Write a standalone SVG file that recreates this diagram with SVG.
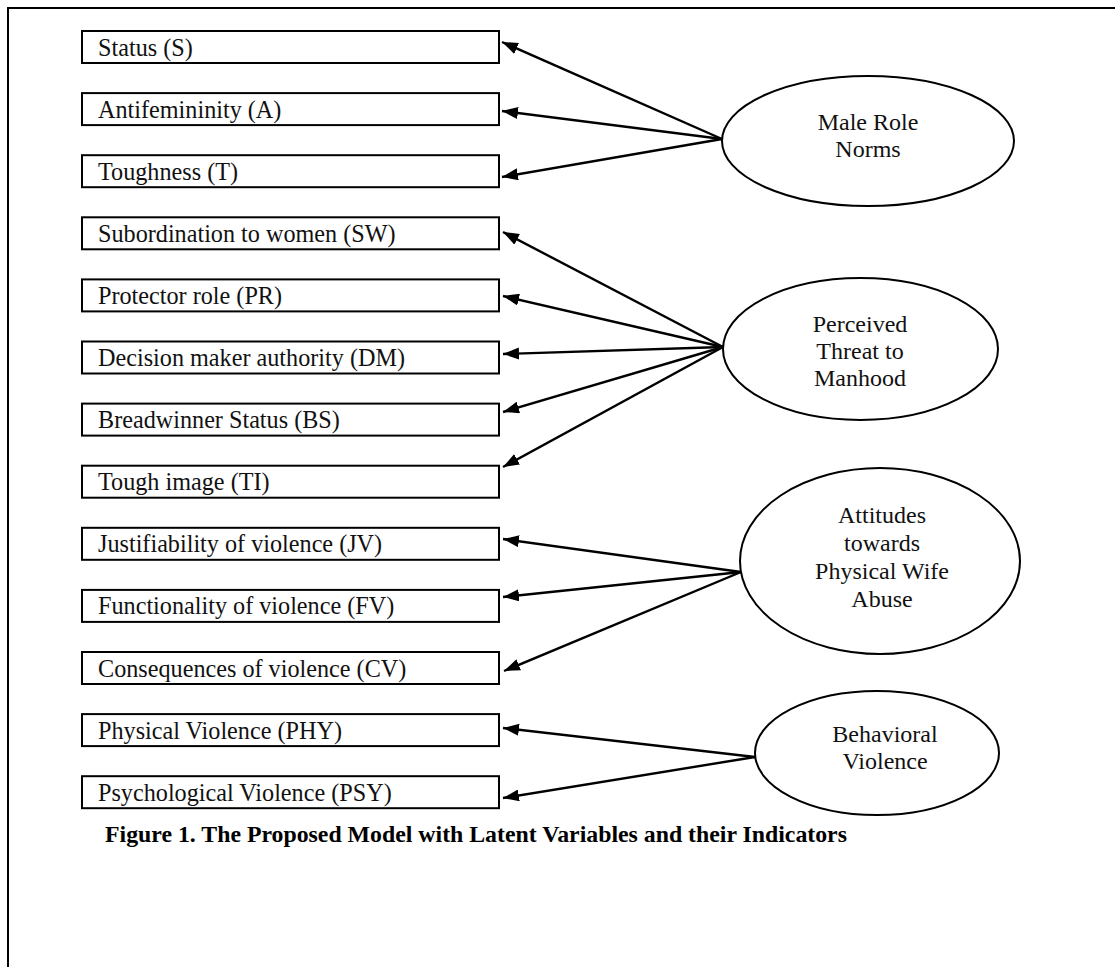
<svg xmlns="http://www.w3.org/2000/svg" width="1115" height="967" viewBox="0 0 1115 967">
<style>
.box{fill:#fff;stroke:#000;stroke-width:2}
.lbl{font-family:"Liberation Serif","Times New Roman",serif;font-size:24.2px;fill:#111}
.ell{fill:#fff;stroke:#000;stroke-width:2}
.etx{font-family:"Liberation Serif","Times New Roman",serif;font-size:24px;fill:#111;text-anchor:middle}
.arr{stroke:#000;stroke-width:2.4;fill:none;marker-end:url(#ah)}
.cap{font-family:"Liberation Serif","Times New Roman",serif;font-size:23.8px;font-weight:bold;fill:#000}
</style>
<defs>
<marker id="ah" markerUnits="userSpaceOnUse" markerWidth="17" markerHeight="12" refX="16" refY="6" orient="auto">
<path d="M0,0 L16,6 L0,12 z" fill="#000"/>
</marker>
</defs>
<rect width="1115" height="967" fill="#fff"/>
<path d="M8,967 V8 H1115" fill="none" stroke="#000" stroke-width="2"/>

<g id="ind-S"><rect class="box" x="82" y="31" width="417" height="32"/><text class="lbl" x="98" y="55.5">Status (S)</text></g>
<g id="ind-A"><rect class="box" x="82" y="93.1" width="417" height="32"/><text class="lbl" x="98" y="117.6">Antifemininity (A)</text></g>
<g id="ind-T"><rect class="box" x="82" y="155.2" width="417" height="32"/><text class="lbl" x="98" y="179.7">Toughness (T)</text></g>
<g id="ind-SW"><rect class="box" x="82" y="217.3" width="417" height="32"/><text class="lbl" x="98" y="241.8">Subordination to women (SW)</text></g>
<g id="ind-PR"><rect class="box" x="82" y="279.4" width="417" height="32"/><text class="lbl" x="98" y="303.9">Protector role (PR)</text></g>
<g id="ind-DM"><rect class="box" x="82" y="341.5" width="417" height="32"/><text class="lbl" x="98" y="366">Decision maker authority (DM)</text></g>
<g id="ind-BS"><rect class="box" x="82" y="403.6" width="417" height="32"/><text class="lbl" x="98" y="428.1">Breadwinner Status (BS)</text></g>
<g id="ind-TI"><rect class="box" x="82" y="465.7" width="417" height="32"/><text class="lbl" x="98" y="490.2">Tough image (TI)</text></g>
<g id="ind-JV"><rect class="box" x="82" y="527.8" width="417" height="32"/><text class="lbl" x="98" y="552.3">Justifiability of violence (JV)</text></g>
<g id="ind-FV"><rect class="box" x="82" y="589.9" width="417" height="32"/><text class="lbl" x="98" y="614.4">Functionality of violence (FV)</text></g>
<g id="ind-CV"><rect class="box" x="82" y="652" width="417" height="32"/><text class="lbl" x="98" y="676.5">Consequences of violence (CV)</text></g>
<g id="ind-PHY"><rect class="box" x="82" y="714.1" width="417" height="32"/><text class="lbl" x="98" y="738.6">Physical Violence (PHY)</text></g>
<g id="ind-PSY"><rect class="box" x="82" y="776.2" width="417" height="32"/><text class="lbl" x="98" y="800.7">Psychological Violence (PSY)</text></g>

<g id="lat-MRN"><ellipse class="ell" cx="868" cy="141" rx="146" ry="65"/><text class="etx" x="868" y="130">Male Role</text><text class="etx" x="868" y="157">Norms</text></g>
<g id="lat-PTM"><ellipse class="ell" cx="860.5" cy="349" rx="137.5" ry="71"/><text class="etx" x="860" y="332">Perceived</text><text class="etx" x="860" y="359">Threat to</text><text class="etx" x="860" y="386">Manhood</text></g>
<g id="lat-ATT"><ellipse class="ell" cx="880" cy="561" rx="140" ry="93"/><text class="etx" x="882" y="523">Attitudes</text><text class="etx" x="882" y="551">towards</text><text class="etx" x="882" y="579">Physical Wife</text><text class="etx" x="882" y="607">Abuse</text></g>
<g id="lat-BV"><ellipse class="ell" cx="877" cy="753" rx="122" ry="62"/><text class="etx" x="885" y="742">Behavioral</text><text class="etx" x="885" y="769">Violence</text></g>

<g id="connectors">
<line class="arr" x1="722" y1="139" x2="502" y2="42"/>
<line class="arr" x1="722" y1="139" x2="502" y2="111"/>
<line class="arr" x1="722" y1="139" x2="502" y2="177"/>
<line class="arr" x1="723" y1="347" x2="503" y2="232"/>
<line class="arr" x1="723" y1="347" x2="503" y2="296"/>
<line class="arr" x1="723" y1="347" x2="503" y2="354"/>
<line class="arr" x1="723" y1="347" x2="503" y2="412"/>
<line class="arr" x1="723" y1="347" x2="503" y2="467"/>
<line class="arr" x1="741" y1="572" x2="503" y2="539"/>
<line class="arr" x1="741" y1="572" x2="503" y2="597"/>
<line class="arr" x1="741" y1="572" x2="504" y2="671"/>
<line class="arr" x1="755" y1="757" x2="503" y2="728"/>
<line class="arr" x1="755" y1="757" x2="503" y2="798"/>
</g>

<text class="cap" x="105" y="842">Figure 1. The Proposed Model with Latent Variables and their Indicators</text>
</svg>
